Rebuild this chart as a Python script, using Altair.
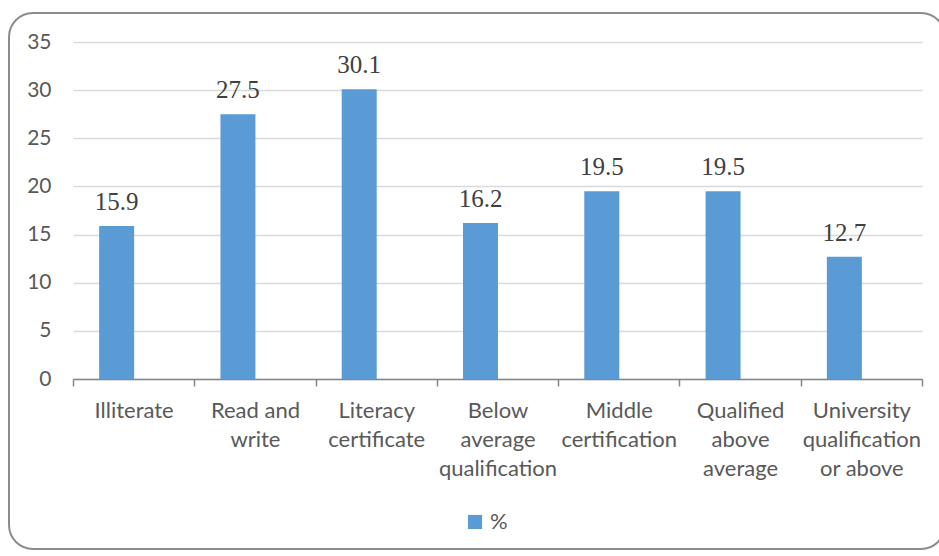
import altair as alt
import pandas as pd

categories = [
    "Illiterate",
    "Read and\nwrite",
    "Literacy\ncertificate",
    "Below\naverage\nqualification",
    "Middle\ncertification",
    "Qualified\nabove\naverage",
    "University\nqualification\nor above",
]
percent = [15.9, 27.5, 30.1, 16.2, 19.5, 19.5, 12.7]
series_name = "%"

df = pd.DataFrame({"category": categories, "value": percent, "series": series_name})

BAR = "#5b9bd5"
TEXT = "#595959"
SHIFT = -17  # bars sit left of the band centre

x_enc = alt.X(
    "category:N",
    sort=categories,
    title=None,
    scale=alt.Scale(paddingInner=0, paddingOuter=0),
    axis=alt.Axis(
        labelAngle=0,
        labelExpr="split(datum.label, '\\n')",
        labelFont="Lato",
        labelFontSize=22,
        labelColor=TEXT,
        labelLineHeight=29,
        labelBaseline="top",
        labelPadding=14,
        labelLimit=200,
        domainColor="#868686",
        domainWidth=1.5,
        tickColor="#868686",
        tickWidth=1.5,
        tickSize=7,
        tickBand="extent",
        grid=False,
    ),
)

y_enc = alt.Y(
    "value:Q",
    title=None,
    scale=alt.Scale(domain=[0, 35], nice=False),
    axis=alt.Axis(
        values=[0, 5, 10, 15, 20, 25, 30, 35],
        labelFont="Lato",
        labelFontSize=21,
        labelColor=TEXT,
        labelPadding=22,
        domain=False,
        ticks=False,
        gridColor="#d9d9d9",
        gridWidth=1.5,
    ),
)

# rounded outer frame around the whole chart
frame = alt.Chart(pd.DataFrame({"k": [0]})).mark_rect(
    fill=None, stroke="#8c8c8c", strokeWidth=2, cornerRadius=24
).encode(
    x=alt.value(-64), x2=alt.value(872), y=alt.value(-29), y2=alt.value(507)
)

bars = alt.Chart(df).mark_bar(color=BAR, width=35, xOffset=SHIFT).encode(
    x=x_enc,
    y=y_enc,
    color=alt.Color(
        "series:N",
        scale=alt.Scale(range=[BAR]),
        legend=alt.Legend(
            title=None,
            orient="none",
            legendX=391,
            legendY=469,
            symbolType="square",
            symbolSize=200,
            symbolStrokeWidth=0,
            labelFont="Lato",
            labelFontSize=22,
            labelColor=TEXT,
            labelOffset=4,
        ),
    ),
)

labels = alt.Chart(df).mark_text(
    font="Liberation Serif", fontSize=25, color="#404040", baseline="bottom",
    dy=-11, dx=SHIFT,
).encode(
    x=alt.X("category:N", sort=categories),
    y="value:Q",
    text=alt.Text("value:Q", format=".1f"),
)

chart = alt.layer(frame, bars, labels).properties(
    width=849,
    height=337,
    autosize=alt.AutoSizeParams(type="none"),
    padding={"left": 73, "top": 42, "right": 17, "bottom": 177},
    background="white",
).configure_view(stroke=None)

chart.save("out.html", embed_options={"renderer": "svg", "actions": False})
